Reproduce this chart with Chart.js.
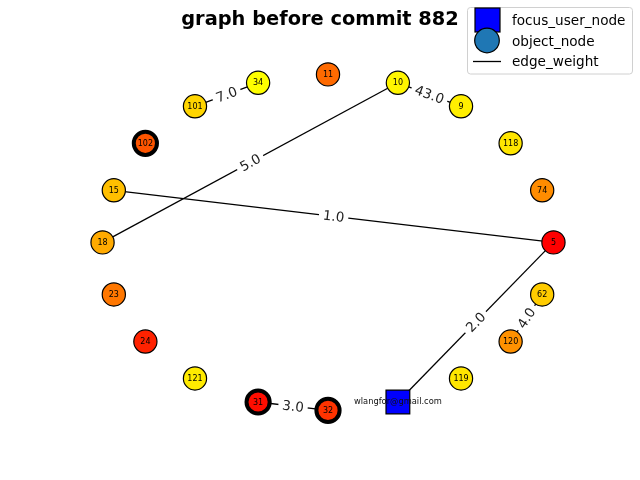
<!DOCTYPE html>
<html><head><meta charset="utf-8">
<script src="https://cdn.jsdelivr.net/npm/chart.js@4.4.1/dist/chart.umd.min.js"></script>
<style>html,body{margin:0;padding:0;background:#fff}#wrap{width:640px;height:480px;position:relative}</style>
</head><body><div id="wrap"><canvas id="c"></canvas></div>
<script>
const titleText = 'graph before commit 882';
const nodeNames = ['5','74','118','9','10','11','34','101','102','15','18','23','24','121','31','32','119','120','62'];
const nodeX = [1.00, 0.95, 0.81, 0.59, 0.31, 0.00, -0.31, -0.59, -0.81, -0.95, -1.00, -0.95, -0.81, -0.59, -0.31, 0.00, 0.59, 0.81, 0.95];
const nodeY = [0.00, 0.31, 0.59, 0.81, 0.95, 1.00, 0.95, 0.81, 0.59, 0.31, 0.00, -0.31, -0.59, -0.81, -0.95, -1.00, -0.81, -0.59, -0.31];
const nodeColors = ['#ff0000','#ff8c00','#ffe600','#ffee00','#fff500','#ff6a00','#ffff00','#ffd500','#ff5500','#ffbf00','#ffaa00','#ff7700','#ff2200','#ffea00','#ff0d00','#ff3300','#ffe600','#ff9100','#ffcc00'];
const thickNodes = ['102','31','32'];
const focusName = 'wlangfor@gmail.com';
const focusX = [0.31];
const focusY = [-0.95];
const edgeFrom = ['wlangfor@gmail.com','15','18','10','101','31','62'];
const edgeTo = ['5','5','10','9','34','32','120'];
const edgeWeights = [2.0, 1.0, 5.0, 43.0, 7.0, 3.0, 4.0];
const legendLabels = ['focus_user_node','object_node','edge_weight'];

function pos(name){
  if(name===focusName) return {x:focusX[0], y:focusY[0]};
  const i = nodeNames.indexOf(name);
  return {x:nodeX[i], y:nodeY[i]};
}

const edgeDatasets = edgeFrom.map((f,i)=>({
  type:'scatter', showLine:true, data:[pos(f), pos(edgeTo[i])],
  borderColor:'#000', borderWidth:1.3, pointRadius:0, order:3, clip:false
}));

const nodeDataset = {
  type:'scatter',
  data: nodeNames.map((n,i)=>({x:nodeX[i], y:nodeY[i]})),
  pointRadius:11.6,
  pointBackgroundColor:nodeColors,
  pointBorderColor:'#000',
  pointBorderWidth:nodeNames.map(n=>thickNodes.includes(n)?4:1.2),
  order:2, clip:false
};
const focusDataset = {
  type:'scatter',
  data: focusX.map((x,i)=>({x:x, y:focusY[i]})),
  pointStyle:'rect', pointRadius:16.8,
  pointBackgroundColor:'#0000ff', pointBorderColor:'#000', pointBorderWidth:1.2,
  order:1, clip:false
};

function rr(ctx,x,y,w,h,r){
  ctx.beginPath();
  ctx.moveTo(x+r,y); ctx.lineTo(x+w-r,y); ctx.quadraticCurveTo(x+w,y,x+w,y+r);
  ctx.lineTo(x+w,y+h-r); ctx.quadraticCurveTo(x+w,y+h,x+w-r,y+h);
  ctx.lineTo(x+r,y+h); ctx.quadraticCurveTo(x,y+h,x,y+h-r);
  ctx.lineTo(x,y+r); ctx.quadraticCurveTo(x,y,x+r,y); ctx.closePath();
}

const labelPlugin = {
  id:'graphLabels',
  afterDatasetsDraw(chart){
    const ctx=chart.ctx, xs=chart.scales.x, ys=chart.scales.y;
    edgeFrom.forEach((f,i)=>{
      const a=pos(f), b=pos(edgeTo[i]);
      const x1=xs.getPixelForValue(a.x), y1=ys.getPixelForValue(a.y);
      const x2=xs.getPixelForValue(b.x), y2=ys.getPixelForValue(b.y);
      const mx=(x1+x2)/2, my=(y1+y2)/2;
      let ang=Math.atan2(y2-y1,x2-x1);
      if(ang>Math.PI/2) ang-=Math.PI;
      if(ang<-Math.PI/2) ang+=Math.PI;
      ctx.save();
      ctx.translate(mx,my); ctx.rotate(ang);
      ctx.font='13.5px "DejaVu Sans"';
      const t=edgeWeights[i].toFixed(1);
      const w=ctx.measureText(t).width, h=14, pad=4;
      ctx.fillStyle='#fff';
      rr(ctx,-w/2-pad,-h/2-pad,w+2*pad,h+2*pad,4);
      ctx.fill();
      ctx.fillStyle='#222'; ctx.textAlign='center'; ctx.textBaseline='middle';
      ctx.fillText(t,0,1);
      ctx.restore();
    });
    ctx.save();
    ctx.fillStyle='#000'; ctx.textAlign='center'; ctx.textBaseline='middle';
    ctx.font='8px "DejaVu Sans"';
    nodeNames.forEach((n,i)=>{
      ctx.fillText(n, xs.getPixelForValue(nodeX[i]), ys.getPixelForValue(nodeY[i])+0.5);
    });
    ctx.font='8.3px "DejaVu Sans"';
    ctx.fillStyle='#111';
    ctx.fillText(focusName, xs.getPixelForValue(focusX[0]), ys.getPixelForValue(focusY[0]));
    ctx.restore();
  },
  afterDraw(chart){
    const ctx=chart.ctx;
    ctx.save();
    ctx.font='bold 19.4px "DejaVu Sans"';
    ctx.fillStyle='#000'; ctx.textAlign='center'; ctx.textBaseline='alphabetic';
    ctx.fillText(titleText, 320, 25);
    ctx.fillStyle='rgba(255,255,255,0.8)';
    ctx.strokeStyle='#d0d0d0'; ctx.lineWidth=1;
    rr(ctx,467.5,7.5,165,66.5,3);
    ctx.fill(); ctx.stroke();
    ctx.fillStyle='#0000ff'; ctx.strokeStyle='#000'; ctx.lineWidth=1.2;
    ctx.fillRect(475,8,25,24); ctx.strokeRect(475,8,25,24);
    ctx.beginPath(); ctx.arc(487,40.5,12.3,0,Math.PI*2);
    ctx.fillStyle='#1f77b4'; ctx.fill(); ctx.stroke();
    ctx.lineWidth=1.3;
    ctx.beginPath(); ctx.moveTo(473,61.5); ctx.lineTo(501,61.5); ctx.stroke();
    ctx.font='13.6px "DejaVu Sans"'; ctx.fillStyle='#000';
    ctx.textAlign='left'; ctx.textBaseline='alphabetic';
    const ys=[24.5,45.5,66];
    legendLabels.forEach((l,i)=>ctx.fillText(l,512,ys[i]));
    ctx.restore();
  }
};

new Chart(document.getElementById('c'),{
  type:'scatter',
  data:{datasets:[...edgeDatasets, nodeDataset, focusDataset]},
  options:{
    responsive:true, maintainAspectRatio:false, animation:false, events:[],
    layout:{padding:{left:80,right:64,top:57.6,bottom:52.8}},
    scales:{
      x:{display:false,min:-1.1,max:1.1},
      y:{display:false,min:-1.1,max:1.1}
    },
    plugins:{legend:{display:false},tooltip:{enabled:false},title:{display:false}}
  },
  plugins:[labelPlugin]
});
</script></body></html>
